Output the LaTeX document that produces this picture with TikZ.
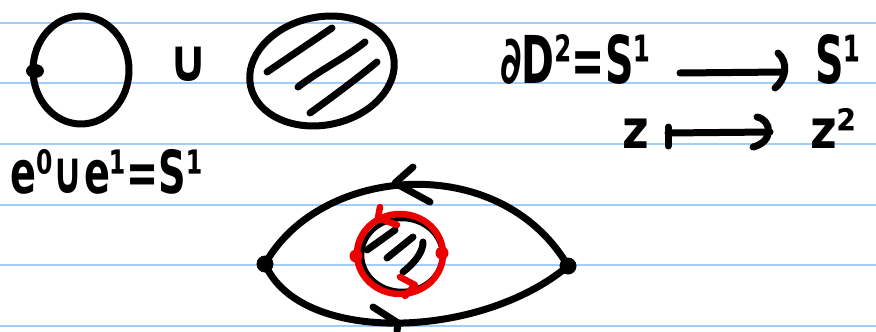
\documentclass[tikz,border=0pt]{standalone}
\usepackage{fontspec}
\newfontfamily\handfont{DejaVu Sans}
\definecolor{ruleblue}{RGB}{160,205,250}
\definecolor{penred}{RGB}{235,0,0}
\begin{document}
\begin{tikzpicture}[x=1pt,y=-1pt,
  pen/.style={line width=7pt,line cap=round,line join=round},
  redpen/.style={pen,penred,line width=6.5pt},
  hand/.style={inner sep=0pt,font=\handfont\bfseries\fontsize{66}{66}\selectfont},
  handz/.style={inner sep=0pt,font=\handfont\bfseries\fontsize{54}{54}\selectfont},
  ruling/.style={ruleblue,line width=2pt}]
\useasboundingbox (0,0) rectangle (876,332);
\fill[white] (0,0) rectangle (876,332);
\foreach \yy in {23,83,144,205,265,326} \draw[ruling] (0,\yy) -- (876,\yy);

% left circle with 0-cell
\draw[pen] (81,70) ellipse [x radius=48, y radius=54];
\fill (35,71) ellipse [x radius=9, y radius=7];
% cup
\node[hand,anchor=center] (cup) at (189,64) {\scalebox{0.75}[0.9]{∪}};
% hatched disc
\draw[pen,rotate around={12:(322,71)}] (322,71) ellipse [x radius=73, y radius=54];
\draw[pen] (267,72) -- (332,28);
\draw[pen] (298,87) .. controls (320,70) and (345,58) .. (365,42);
\draw[pen] (310,113) .. controls (335,95) and (355,80) .. (377,62);

% top-right text
\node[hand,anchor=base west] (dd) at (500,83) {\scalebox{0.6}[1]{∂D²=S¹}};
\node[hand,anchor=base west] (s1) at (815,83) {\scalebox{0.6}[1]{S¹}};
\coordinate (a1) at (680,73);
\coordinate (a2) at (784,72);
\draw[pen] (a1) -- (a2);
\draw[pen] (778,53) .. controls (788,62) and (787,78) .. (775,88);

\node[handz,anchor=base west] (z) at (622,148) {\scalebox{0.85}[1]{z}};
\node[handz,anchor=base west] (z2) at (810,148) {\scalebox{0.85}[1]{z²}};
\coordinate (m0) at (668,127);
\coordinate (m1) at (668,146);
\coordinate (m2) at (770,132);
\draw[pen] (m0) -- (m1);
\draw[pen] (668,133) -- (m2);
\draw[pen] (757,117) .. controls (772,120) and (774,142) .. (753,147);

% bottom-left text
\node[hand,anchor=base west] (cells) at (10,193) {\scalebox{0.58}[0.9]{e⁰∪e¹=S¹}};

% eye: two 0-cells, two 1-cells, one 2-cell
\coordinate (L) at (265,264);
\coordinate (R) at (568,266);
\draw[pen] (L) .. controls (320,165) and (500,150) .. (R);
\draw[pen] (L) .. controls (300,345) and (480,340) .. (R);
\fill (L) circle (8.5);
\fill (R) circle (8.5);
\draw[pen] (413,167) -- (395,183) -- (430,202);
\draw[pen] (373,307) -- (398,323) -- (397,331);

% small disc
\draw[pen,line width=4.5pt] (402,255) ellipse [x radius=40, y radius=36];
\draw[pen] (367,250) -- (395,230);
\draw[pen] (387,258) -- (413,237);
\draw[pen] (403,272) .. controls (418,260) and (423,250) .. (423,242);
\draw[redpen] (400,254) ellipse [x radius=43, y radius=40];
\draw[redpen] (380,207) -- (378,218) -- (397,225);
\draw[redpen] (400,277) -- (415,285) -- (405,296);
\fill[penred] (356,256) circle (6.5);
\fill[penred] (442,253) circle (6.5);
\end{tikzpicture}
\end{document}
